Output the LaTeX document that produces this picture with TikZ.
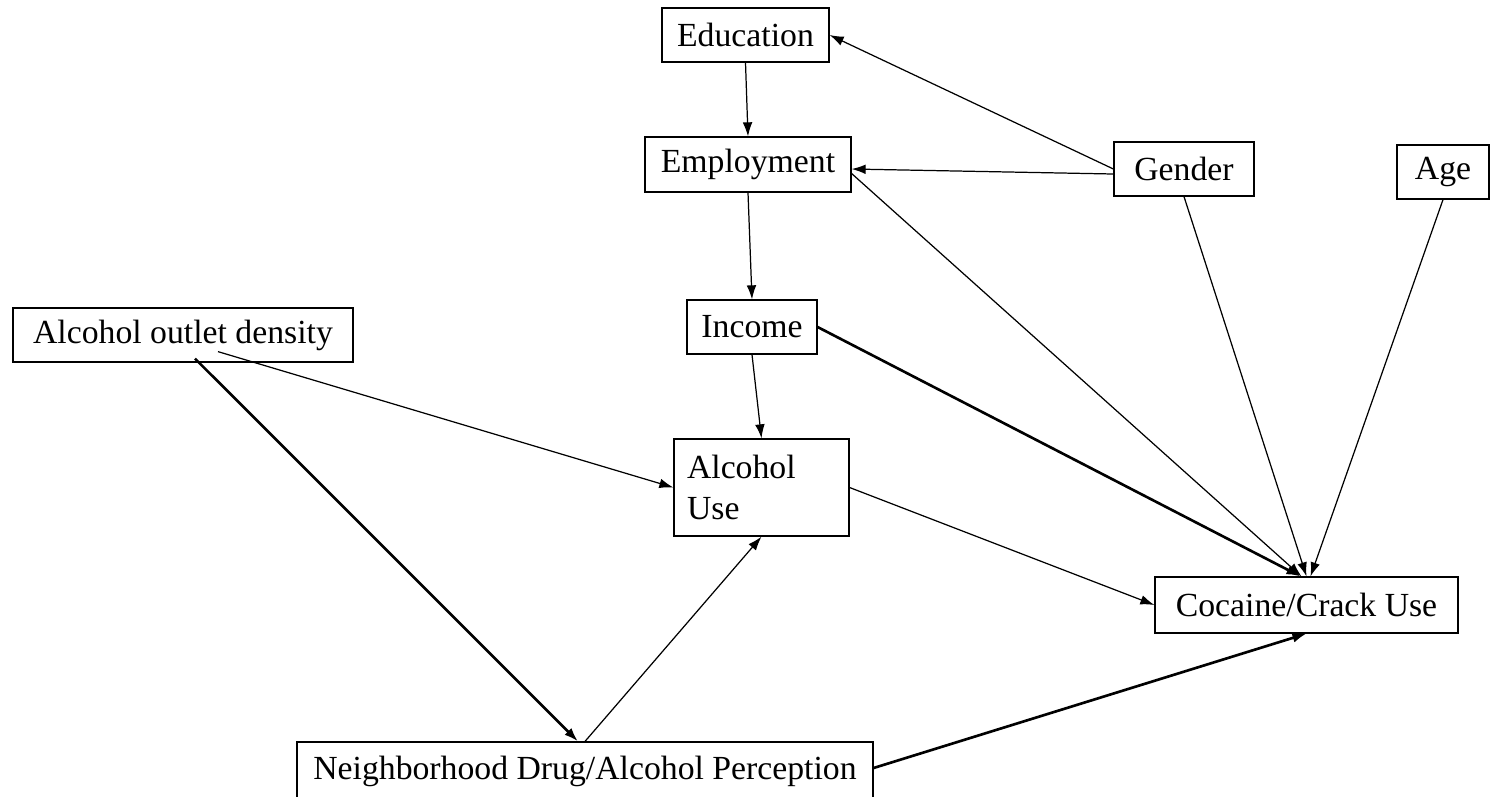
\documentclass[tikz,border=0pt]{standalone}
\usepackage{fontspec}
\setmainfont{Liberation Serif}
\usetikzlibrary{arrows.meta}
\usetikzlibrary{positioning}

\begin{document}
\begin{tikzpicture}[x=0.02cm,y=-0.02cm,
  every node/.style={draw,rectangle,line width=0.7pt,inner sep=0pt,minimum height=1.08cm,font=\fontsize{19.2}{23.8}\selectfont},
  arr/.style={->,line width=0.7pt},
  thickarr/.style={->,line width=1.5pt},
  >={Latex[length=8pt,width=5.5pt]}]
  \useasboundingbox (0,0) rectangle (1494,796);

  \node[minimum width=3.34cm] (edu) at (745.5,35) {Education};
  \node[minimum width=4.12cm,minimum height=1.1cm] (emp) at (748,164.5) {Employment};
  \node[minimum width=2.8cm] (gen) at (1184,169) {Gender};
  \node[minimum width=1.84cm] (age) at (1443,172) {Age};
  \node[minimum width=6.8cm] (aod) at (183,335) {Alcohol outlet density};
  \node[minimum width=2.6cm] (inc) at (752,327) {Income};
  \node[inner sep=0.26cm,text width=2.98cm,align=left,minimum height=1.94cm] (alc) at (761.5,487.5) {Alcohol\\Use};
  \node[minimum width=6.06cm,minimum height=1.12cm] (coc) at (1306.5,605) {Cocaine/Crack Use};
  \node[minimum width=11.52cm,minimum height=1.16cm] (nbh) at (585,771) {Neighborhood Drug/Alcohol Perception};

  % upper chain
  \draw[arr](edu.south)--(emp.north);
  \draw[arr](emp.south)--(inc.north);
  \draw[arr](inc.south)--(alc.north);
  \draw[arr](gen.west)--(edu.east);
  \draw[arr]([yshift=-0.1cm]gen.west)--([yshift=-0.09cm]emp.east);

  % into cocaine/crack use
  \draw[arr]([yshift=-0.18cm]emp.east)--([xshift=-0.1cm]coc.north);
  \draw[arr](gen.south)--(coc.north);
  \draw[arr](age.south)--([xshift=0.08cm]coc.north);
  \draw[thickarr](inc.east)--([xshift=-0.12cm]coc.north);
  \draw[arr](alc.east)--(coc.west);
  \draw[thickarr]([yshift=0.06cm]nbh.east)--(coc.south);

  % neighborhood
  \draw[arr]([xshift=0.7cm,yshift=0.22cm]aod.south)--(alc.west);
  \draw[thickarr]([xshift=0.24cm,yshift=0.08cm]aod.south)--([xshift=-0.14cm]nbh.north);
  \draw[arr](nbh.north)--(alc.south);
\end{tikzpicture}
\end{document}
